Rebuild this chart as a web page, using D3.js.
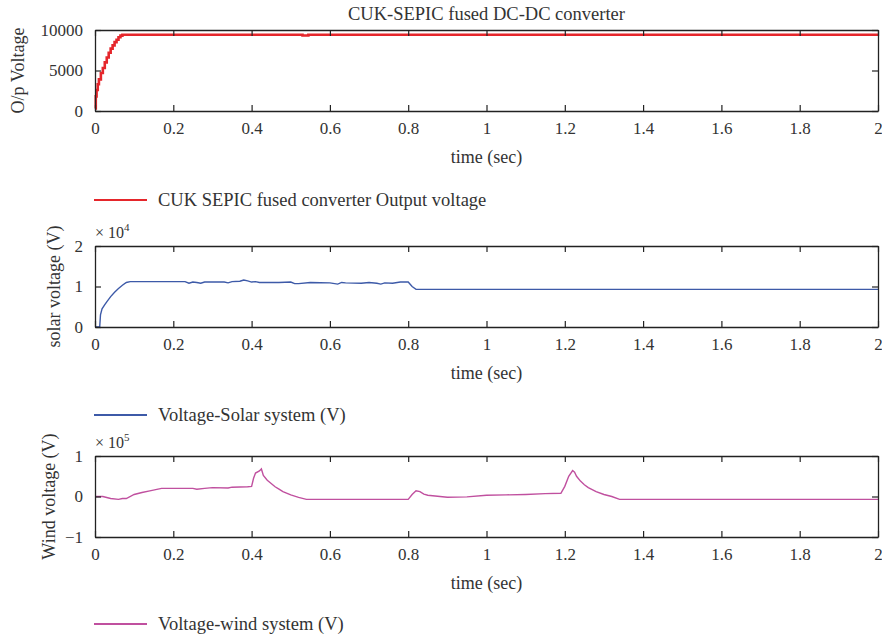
<!DOCTYPE html>
<html>
<head>
<meta charset="utf-8">
<script src="https://cdn.jsdelivr.net/npm/d3@7"></script>
<style>
  body { margin: 0; background: #fff; }
  text { font-family: "Liberation Serif", "DejaVu Serif", serif; fill: #333; }
</style>
</head>
<body>
<svg id="chart" width="882" height="639"></svg>
<script>
const xTicks = [0, 0.2, 0.4, 0.6, 0.8, 1, 1.2, 1.4, 1.6, 1.8, 2];

// output voltage of fused converter (V)
const outT = [0, 0.002, 0.004, 0.007, 0.01, 0.015, 0.02, 0.025, 0.03, 0.035, 0.04, 0.045, 0.05, 0.055, 0.06, 0.065, 0.07, 0.525, 0.53, 0.54, 0.545, 2];
const outV = [300, 1800, 2600, 3300, 3900, 4700, 5300, 6000, 6600, 7200, 7700, 8100, 8500, 8800, 9100, 9300, 9420, 9420, 9330, 9330, 9420, 9420];

// solar system voltage (x 1e4 V)
const solarT = [0, 0.012, 0.014, 0.018, 0.025, 0.03, 0.04, 0.05, 0.06, 0.07, 0.08, 0.09, 0.2, 0.23, 0.24, 0.25, 0.26, 0.27, 0.28, 0.33, 0.34, 0.35, 0.37, 0.38, 0.39, 0.4, 0.41, 0.42, 0.47, 0.5, 0.51, 0.52, 0.55, 0.6, 0.62, 0.63, 0.64, 0.68, 0.7, 0.72, 0.73, 0.74, 0.76, 0.78, 0.8, 0.81, 0.82, 2];
const solarV = [0, 0, 0.3, 0.45, 0.55, 0.62, 0.75, 0.86, 0.95, 1.03, 1.1, 1.12, 1.12, 1.12, 1.08, 1.11, 1.1, 1.08, 1.11, 1.11, 1.09, 1.12, 1.13, 1.16, 1.14, 1.11, 1.12, 1.1, 1.1, 1.11, 1.07, 1.07, 1.1, 1.09, 1.06, 1.1, 1.09, 1.08, 1.1, 1.08, 1.06, 1.09, 1.08, 1.11, 1.11, 1.0, 0.93, 0.93];

// wind system voltage (x 1e5 V)
const windT = [0, 0.02, 0.04, 0.06, 0.07, 0.08, 0.1, 0.12, 0.14, 0.17, 0.2, 0.25, 0.26, 0.28, 0.3, 0.34, 0.35, 0.39, 0.4, 0.405, 0.41, 0.42, 0.425, 0.43, 0.44, 0.45, 0.46, 0.47, 0.48, 0.5, 0.52, 0.54, 0.8, 0.81, 0.82, 0.83, 0.84, 0.85, 0.9, 0.95, 1.0, 1.05, 1.1, 1.15, 1.19, 1.2, 1.21, 1.22, 1.225, 1.23, 1.24, 1.25, 1.26, 1.28, 1.3, 1.32, 1.34, 2];
const windV = [0, 0, -0.05, -0.07, -0.05, -0.05, 0.05, 0.1, 0.14, 0.2, 0.2, 0.2, 0.18, 0.2, 0.22, 0.21, 0.23, 0.24, 0.25, 0.45, 0.58, 0.63, 0.68, 0.52, 0.4, 0.32, 0.24, 0.18, 0.12, 0.04, -0.02, -0.07, -0.07, 0.05, 0.14, 0.12, 0.06, 0.03, -0.02, -0.01, 0.03, 0.04, 0.05, 0.07, 0.08, 0.25, 0.5, 0.64, 0.6, 0.5, 0.38, 0.29, 0.22, 0.12, 0.05, 0.0, -0.07, -0.07];

const panels = [
  { t: outT, v: outV, yDomain: [0, 10000], yTicks: [0, 5000, 10000], top: 30, color: '#e5262b', width: 2.6,
    yLabel: 'O/p Voltage', yLabelX: 18, legend: 'CUK SEPIC fused converter Output voltage', legendY: 200, title: 'CUK-SEPIC fused DC-DC converter', step: true },
  { t: solarT, v: solarV, yDomain: [0, 2], yTicks: [0, 1, 2], top: 246, color: '#3d5aa8', width: 1.4,
    yLabel: 'solar voltage (V)', yLabelX: 54, legend: 'Voltage-Solar system (V)', legendY: 415, exp: '4' },
  { t: windT, v: windV, yDomain: [-1, 1], yTicks: [-1, 0, 1], top: 456, color: '#c0509f', width: 1.4,
    yLabel: 'Wind voltage (V)', yLabelX: 49, legend: 'Voltage-wind system (V)', legendY: 624, exp: '5' }
];

const LEFT = 95, RIGHT = 878, PANEL_H = 81;
const svg = d3.select('#chart');
const x = d3.scaleLinear().domain([0, 2]).range([LEFT, RIGHT]);

const drawPanel = (p) => {
  const y = d3.scaleLinear().domain(p.yDomain).range([p.top + PANEL_H, p.top]);
  const g = svg.append('g');

  const pts = p.t.map((t, i) => [t, p.v[i]]);
  const line = d3.line()
    .x(d => x(d[0]))
    .y(d => y(d[1]))
    .curve(p.step ? d3.curveStepAfter : d3.curveLinear);

  g.append('path')
    .datum(pts)
    .attr('d', line)
    .attr('fill', 'none')
    .attr('stroke', p.color)
    .attr('stroke-width', p.width);

  // axes with inward ticks on all four sides
  g.append('g').attr('transform', `translate(0, ${p.top + PANEL_H})`)
    .call(d3.axisBottom(x).tickValues(xTicks).tickFormat(d3.format('~g')).tickSizeInner(-6).tickSizeOuter(0).tickPadding(11));
  g.append('g').attr('transform', `translate(0, ${p.top})`)
    .call(d3.axisTop(x).tickValues(xTicks).tickSizeInner(-6).tickSizeOuter(0).tickFormat(''));
  g.append('g').attr('transform', `translate(${LEFT}, 0)`)
    .call(d3.axisLeft(y).tickValues(p.yTicks).tickSizeInner(-6).tickSizeOuter(0).tickPadding(12).tickFormat(d3.format('~g')));
  g.append('g').attr('transform', `translate(${RIGHT}, 0)`)
    .call(d3.axisRight(y).tickValues(p.yTicks).tickSizeInner(-6).tickSizeOuter(0).tickFormat(''));

  g.selectAll('.domain').attr('stroke', '#222').attr('stroke-width', 1.3);
  g.selectAll('.tick line').attr('stroke', '#222').attr('stroke-width', 1.2);
  g.selectAll('.tick text').attr('font-size', 17).attr('fill', '#333')
    .attr('font-family', '"Liberation Serif", serif');

  g.append('text')
    .attr('x', (LEFT + RIGHT) / 2)
    .attr('y', p.top + PANEL_H + 52)
    .attr('text-anchor', 'middle')
    .attr('font-size', 18)
    .text('time (sec)');

  g.append('text')
    .attr('transform', `translate(${p.yLabelX}, ${p.top + PANEL_H / 2}) rotate(-90)`)
    .attr('text-anchor', 'middle')
    .attr('dy', '0.35em')
    .attr('font-size', 18)
    .text(p.yLabel);

  if (p.title) {
    g.append('text')
      .attr('x', (LEFT + RIGHT) / 2)
      .attr('y', p.top - 10)
      .attr('text-anchor', 'middle')
      .attr('font-size', 18.5)
      .text(p.title);
  }

  if (p.exp) {
    const e = g.append('text')
      .attr('x', LEFT)
      .attr('y', p.top - 8)
      .attr('font-size', 16)
      .text('× 10');
    e.append('tspan').attr('font-size', 11).attr('dy', -7).text(p.exp);
  }

  // legend
  g.append('line')
    .attr('x1', 94).attr('x2', 147)
    .attr('y1', p.legendY).attr('y2', p.legendY)
    .attr('stroke', p.color)
    .attr('stroke-width', 2);
  g.append('text')
    .attr('x', 158)
    .attr('y', p.legendY)
    .attr('dy', '0.35em')
    .attr('font-size', 18.5)
    .text(p.legend);
};

panels.forEach(drawPanel);
</script>
</body>
</html>
